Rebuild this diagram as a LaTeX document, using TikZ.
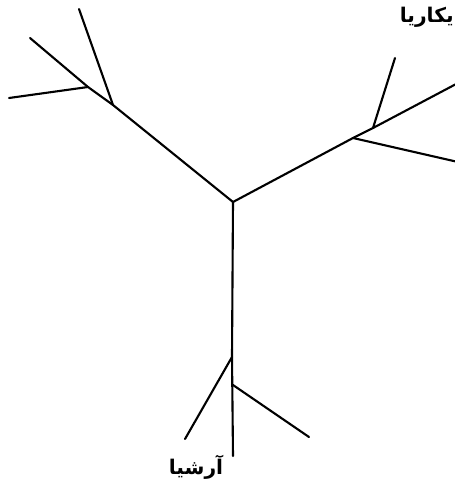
\documentclass[tikz,border=0pt]{standalone}
\usepackage{fontspec}
\newfontfamily\arabicfont[Script=Arabic]{DejaVu Sans}
\TeXXeTstate=1
\usetikzlibrary{positioning}

\begin{document}
\begin{tikzpicture}[
    x=0.02cm, y=-0.02cm,
    branch/.style={draw=black, line width=1.2pt, line cap=round, line join=round},
    leaf/.style={font=\arabicfont\bfseries\fontsize{11.5}{13}\selectfont, inner sep=0pt}
]
\useasboundingbox (0,0) rectangle (455,484);

% inner points of the tree
\coordinate (root) at (233,202);
\coordinate (leftfork) at (113,105);
\coordinate (leftsub) at (88,87);
\coordinate (rightfork) at (353,138);
\coordinate (rightsub) at (373,128);
\coordinate (lowfork) at (232,357);
\coordinate (lowsub) at (233,385);

% tips
\coordinate (tipA) at (79,9);
\coordinate (tipB) at (30,38);
\coordinate (tipC) at (9,98);
\coordinate (tipD) at (395,58);
\coordinate (tipE) at (458,83);
\coordinate (tipF) at (458,162);
\coordinate (tipG) at (185,439);
\coordinate (tipH) at (309,437);
\coordinate (tipI) at (233,456);

% labels
\node[leaf, anchor=east] (ikaria) at (454,17) {\beginR یکاریا\endR};
\node[leaf] (arshia) at (196,467) {\beginR آرشیا\endR};

% left part
\draw[branch] (root) -- (leftfork) -- (tipA);
\draw[branch] (leftfork) -- (leftsub) -- (tipB);
\draw[branch] (leftsub) -- (tipC);

% right part
\draw[branch] (root) -- (rightfork) -- (rightsub) -- (tipD);
\draw[branch] (rightsub) -- (tipE);
\draw[branch] (rightfork) -- (tipF);

% lower part
\draw[branch] (root) -- (lowfork) -- (tipG);
\draw[branch] (lowfork) -- (tipI);
\draw[branch] (lowsub) -- (tipH);

\end{tikzpicture}
\end{document}
